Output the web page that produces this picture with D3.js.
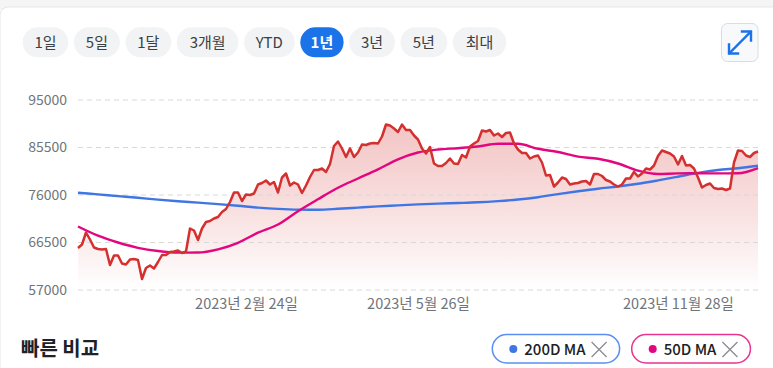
<!DOCTYPE html>
<html><head><meta charset="utf-8">
<script src="https://cdn.jsdelivr.net/npm/d3@7/dist/d3.min.js"></script>
<style>
html,body{margin:0;padding:0;background:#fff;}
svg{display:block;font-family:"Noto Sans CJK KR","Noto Sans",sans-serif;}
</style></head><body>
<svg id="c" width="773" height="368"></svg>
<script>
// daily closing prices (one value per session, 1 year)
const price = [
65400,66100,68500,67100,65500,65200,65100,65200,62000,63900,
63900,62300,62100,63100,63200,63000,59200,61400,61900,61300,
62600,64000,64000,64600,64700,64900,64400,64700,69300,68900,
67000,69300,70600,70800,71300,71600,72600,73200,74600,76500,
76500,74800,76100,76000,76300,78100,78400,78900,78100,78600,
76500,79500,80300,77900,78500,78100,76400,77900,79600,81000,
81000,81300,80600,82200,85800,86700,85300,83600,85300,83600,
84500,86100,86000,86300,86400,86300,87700,90100,89900,89300,
88600,90100,89000,89000,87900,87100,85300,84300,85600,82300,
81800,81800,82400,83300,82300,82200,84000,83500,85700,86300,
86800,88900,88700,89000,87900,88300,87600,88400,88500,86300,
85100,84400,84400,83300,83700,83900,82500,79900,80000,77700,
78500,79500,79200,78100,78300,78400,78700,78800,78100,80200,
80200,79800,79000,78700,78100,77700,78100,79300,79300,80600,
79700,80300,81300,81100,81900,83800,84900,84600,84300,83700,
82100,83800,81900,82000,81300,79500,77500,78000,78300,77400,
77200,77300,77000,77300,82500,84900,84800,83900,83600,84400,
84700
];
// moving averages, sampled every 5 sessions
const maStep = 5;
const ma200 = [
76460,76120,75780,75440,75080,74760,74480,74180,73840,73480,
73220,73080,73060,73240,73480,73720,73920,74120,74280,74400,
74540,74780,75100,75560,76180,76740,77260,77700,78240,78920,
79660,80420,81000,81360,81840
];
const ma50 = [
69700,67860,66500,65440,64800,64480,64500,65140,66440,68460,
70100,72760,75160,77460,79300,81140,83140,84500,85100,85360,
85700,86240,86240,85240,84600,83680,83240,82300,80860,80200,
80320,80340,80320,80360,81400
];
const yTicks = [57000, 66500, 76000, 85500, 95000];
const xTickIdx = [42, 85, 150];
const xTickLabels = ["2023년 2월 24일", "2023년 5월 26일", "2023년 11월 28일"];
const ranges = ["1일","5일","1달","3개월","YTD","1년","3년","5년","최대"];
const activeRange = "1년";
const legendNames = ["200D MA", "50D MA"];
const title = "빠른 비교";

const C = {red:"#d3302f", blue:"#3f76e4", magenta:"#e3077f", grid:"#d9d9d9", axisText:"#70757a"};

const svg = d3.select("#c");

// page frame
svg.append("rect").attr("x",0).attr("y",0).attr("width",773).attr("height",10).attr("fill","#f5f5f5");
svg.append("rect").attr("x",0).attr("y",7).attr("width",790).attr("height",380).attr("rx",8)
  .attr("fill","#fff").attr("stroke","#e6e6e6").attr("stroke-width",1);

// range buttons (layout widths)
const btnW = [45.6,46,45.7,61.6,50.7,43.3,45.7,46.7,53.4];
let bx = 22.7;
const btnG = svg.append("g");
ranges.forEach((r,i) => {
  const g = btnG.append("g");
  const active = r === activeRange;
  const w = btnW[i];
  g.append("rect").attr("x",bx).attr("y",27.3).attr("width",w).attr("height",30).attr("rx",15)
    .attr("fill", active ? "#1a73e8" : "#f1f3f4");
  g.append("text").text(r).attr("x",bx + w/2).attr("y",47.5).attr("font-size",15)
    .attr("fill", active ? "#fff" : "#3c4043").attr("font-weight", active ? 700 : 400)
    .attr("text-anchor","middle");
  bx += w + 5.6;
});

// expand button
svg.append("rect").attr("x",721.5).attr("y",23.5).attr("width",36.5).attr("height",38).attr("rx",6)
  .attr("fill","#f8f9fa").attr("stroke","#dadce0").attr("stroke-width",1);
const ic = svg.append("g").attr("stroke","#1a73e8").attr("stroke-width",2.4).attr("fill","none")
  .attr("stroke-linecap","square");
ic.append("path").attr("d","M729.5,53 L750.5,32");
ic.append("path").attr("d","M742,31.5 L751,31.5 L751,40.5");
ic.append("path").attr("d","M729,44.5 L729,53.5 L738,53.5");

// scales
const x = d3.scaleLinear().domain([0, price.length-1]).range([78, 758]);
const y = d3.scaleLinear().domain([57000, 95000]).range([290, 100]);

// gradient
const defs = svg.append("defs");
const grad = defs.append("linearGradient").attr("id","ag").attr("gradientUnits","userSpaceOnUse")
  .attr("x1",0).attr("x2",0).attr("y1",y(90000)).attr("y2",y(57000));
grad.append("stop").attr("offset",0).attr("stop-color",C.red).attr("stop-opacity",0.28);
grad.append("stop").attr("offset",0.55).attr("stop-color",C.red).attr("stop-opacity",0.14);
grad.append("stop").attr("offset",1).attr("stop-color",C.red).attr("stop-opacity",0.0);

svg.append("path").datum(price)
  .attr("d", d3.area().x((d,i)=>x(i)).y0(y(57000)).y1(d=>y(d)))
  .attr("fill","url(#ag)");

// grid
svg.append("g").selectAll("line").data(yTicks).join("line")
  .attr("x1",78).attr("x2",758).attr("y1",d=>y(d)).attr("y2",d=>y(d))
  .attr("stroke",C.grid).attr("stroke-width",1).attr("stroke-dasharray","5,4");

// y axis labels
const yAxis = d3.axisLeft(y).tickValues(yTicks).tickSize(0).tickPadding(0).tickFormat(d3.format("d"));
svg.append("g").attr("transform","translate(67,0)").call(yAxis)
  .call(g=>g.select(".domain").remove())
  .selectAll("text").attr("font-size",14).attr("fill",C.axisText)
  .attr("font-family","'Noto Sans CJK KR','Noto Sans',sans-serif");

// x axis labels
const xAxis = d3.axisBottom(x).tickValues(xTickIdx).tickSize(0).tickPadding(0)
  .tickFormat((d,i)=>xTickLabels[i]);
svg.append("g").attr("transform","translate(0,299)").call(xAxis)
  .call(g=>g.select(".domain").remove())
  .selectAll("text").attr("font-size",14.5).attr("fill",C.axisText)
  .attr("font-family","'Noto Sans CJK KR','Noto Sans',sans-serif");

// MA lines
const maLine = d3.line().x((d,i)=>x(i*maStep)).y(d=>y(d)).curve(d3.curveMonotoneX);
svg.append("path").datum(ma200).attr("d",maLine).attr("fill","none")
  .attr("stroke",C.blue).attr("stroke-width",2.4);
svg.append("path").datum(ma50).attr("d",maLine).attr("fill","none")
  .attr("stroke",C.magenta).attr("stroke-width",2.4);

// price line
svg.append("path").datum(price)
  .attr("d", d3.line().x((d,i)=>x(i)).y(d=>y(d)))
  .attr("fill","none").attr("stroke",C.red).attr("stroke-width",2.5).attr("stroke-linejoin","round");

// title
svg.append("text").text(title).attr("x",21).attr("y",356).attr("font-size",20).attr("font-weight",700)
  .attr("fill","#202124");

// legend chips
const chipColors = [C.blue, C.magenta];
const chipBorder = ["#5b8ef0", "#e8348f"];
const chipX = [492.3, 631.7];
legendNames.forEach((n,i)=>{
  const g = svg.append("g");
  const t = g.append("text").text(n).attr("x",chipX[i]+32).attr("y",355).attr("font-size",15)
    .attr("font-weight",500).attr("fill","#202124");
  const tw = t.node().getComputedTextLength();
  const w = 32 + tw + 34;
  g.insert("rect","text").attr("x",chipX[i]).attr("y",334.5).attr("width",w).attr("height",28.5).attr("rx",14.25)
    .attr("fill","#fff").attr("stroke",chipBorder[i]).attr("stroke-width",1.5);
  g.append("circle").attr("cx",chipX[i]+21).attr("cy",349).attr("r",4).attr("fill",chipColors[i]);
  const cx0 = chipX[i]+32+tw+6;
  g.append("path").attr("d",`M${cx0},${342} l15,15 M${cx0+15},${342} l-15,15`)
    .attr("stroke","#8a8d91").attr("stroke-width",1.3).attr("fill","none");
});
</script>
</body></html>
